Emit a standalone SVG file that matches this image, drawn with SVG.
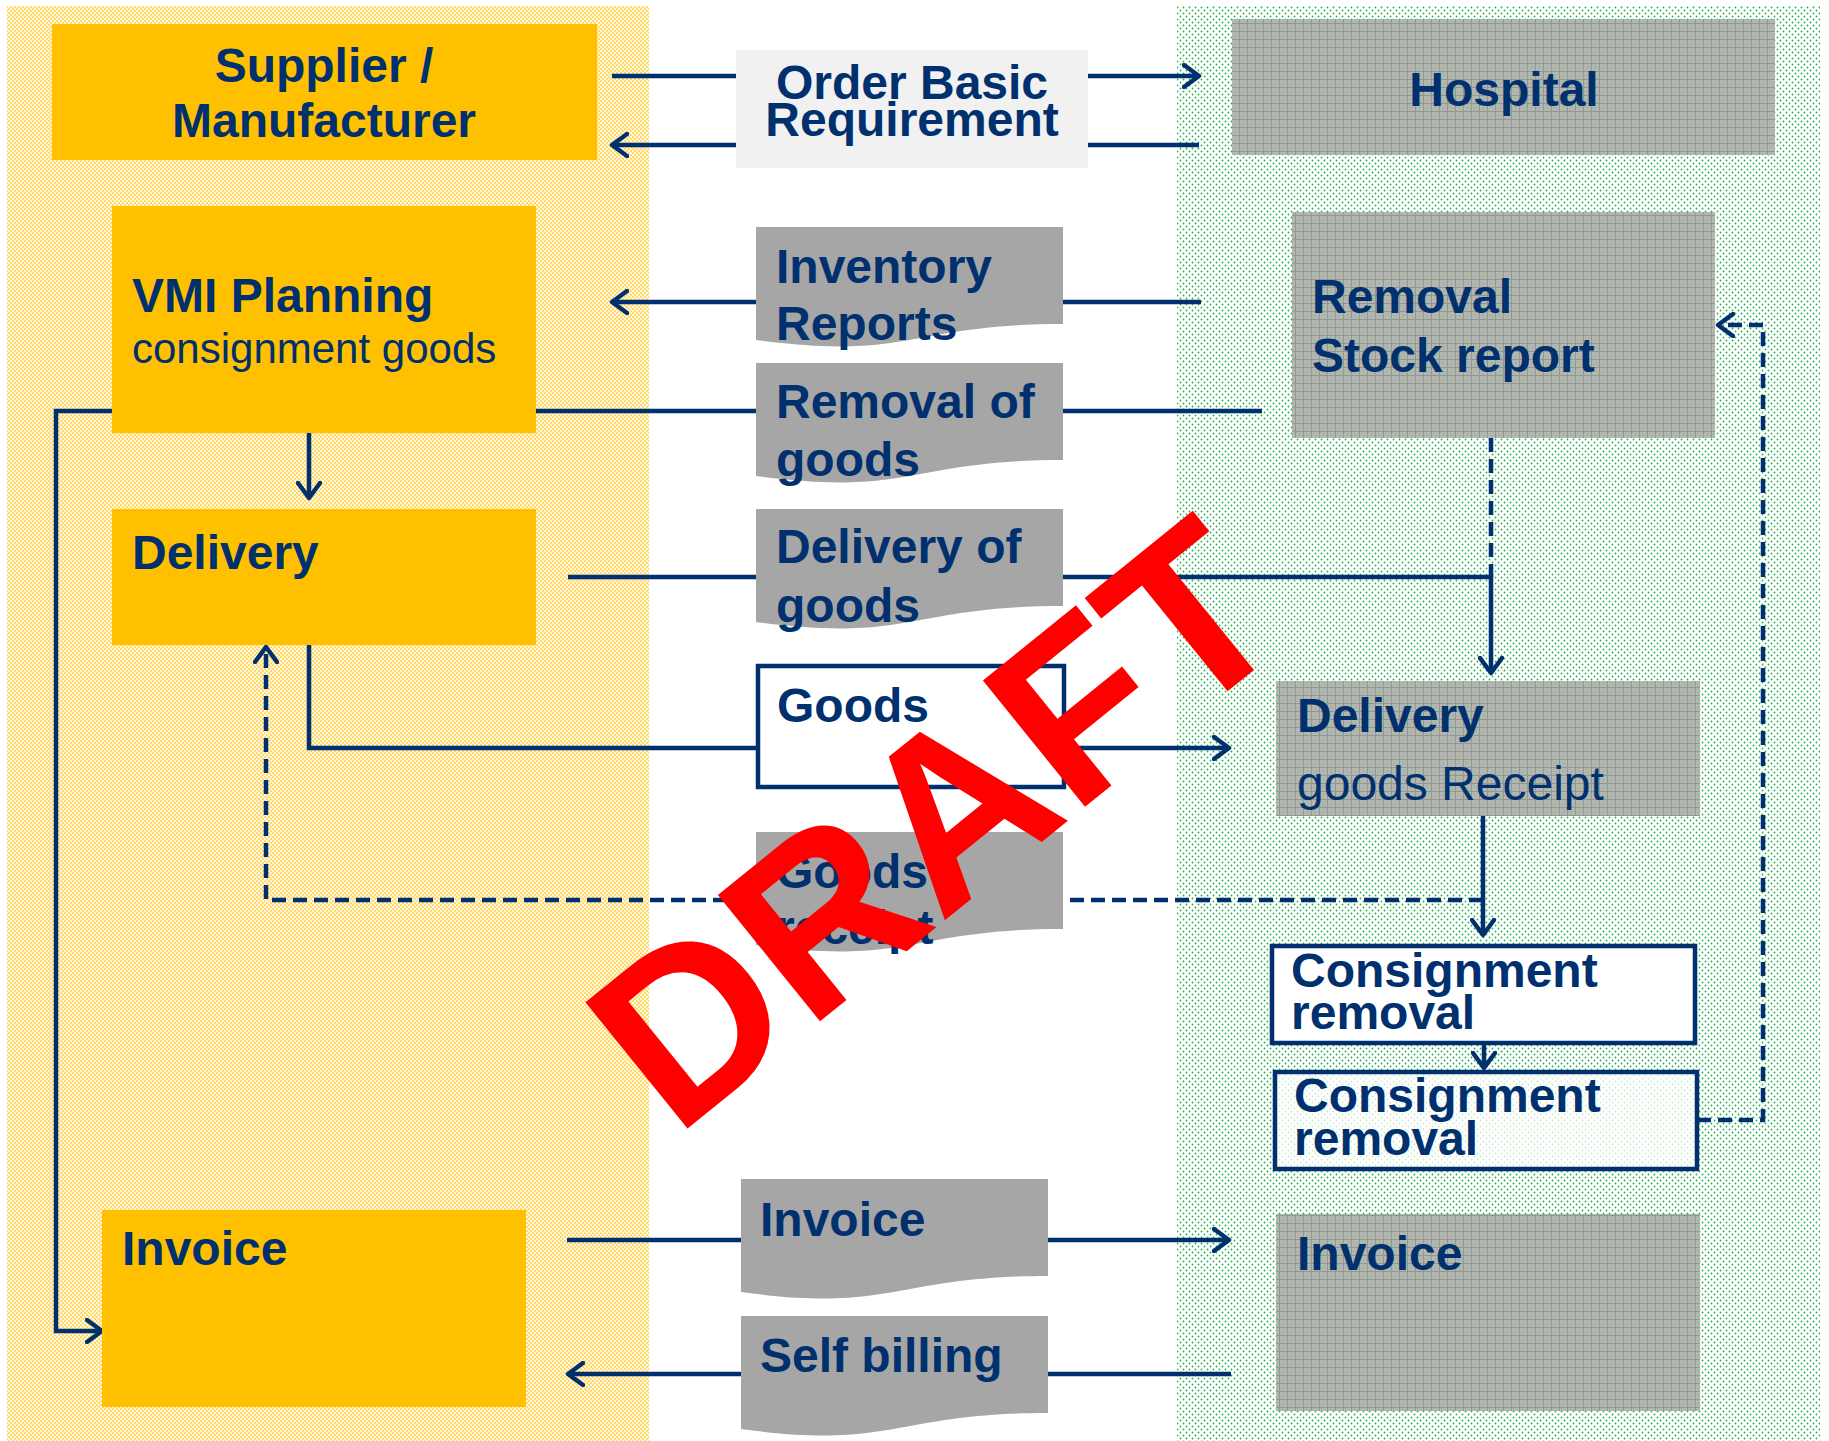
<svg xmlns="http://www.w3.org/2000/svg" width="1829" height="1441" viewBox="0 0 1829 1441">
<defs>
<style>
.b{font-family:"Liberation Sans",Arial,sans-serif;font-weight:bold;font-size:48px;fill:#00306E}
.r{font-family:"Liberation Sans",Arial,sans-serif;font-weight:normal;font-size:48px;fill:#00306E}
.ln{fill:none;stroke:#00306E;stroke-width:4.5}
.dash{fill:none;stroke:#00306E;stroke-width:4.5;stroke-dasharray:14 7}
.doc{fill:#A6A6A6}
.yel{fill:#FFC000}
.gry{fill:url(#grid)}
.wbox{fill:#FFFFFF;stroke:#00306E;stroke-width:4.5}
</style>
<pattern id="ydots" width="4" height="4" patternUnits="userSpaceOnUse">
<rect width="4" height="4" fill="#FFF6DC"/>
<circle cx="1" cy="1" r="0.85" fill="#FFC000"/>
<circle cx="3" cy="3" r="0.85" fill="#FFC000"/>
</pattern>
<pattern id="gdots" width="6" height="6" patternUnits="userSpaceOnUse">
<rect width="6" height="6" fill="#FFFFFF"/>
<circle cx="1.5" cy="1.5" r="0.9" fill="#22B14C"/>
<circle cx="4.5" cy="4.5" r="0.9" fill="#22B14C"/>
</pattern>
<pattern id="grid" width="8" height="8" patternUnits="userSpaceOnUse">
<rect width="8" height="8" fill="#B3B6B0"/>
<path d="M0,7.5 H8 M7.5,0 V8" stroke="#909890" stroke-width="1"/>
<circle cx="3.5" cy="3.5" r="0.8" fill="#7CC28C"/>
</pattern>
<marker id="arr" viewBox="0 0 20 26" markerWidth="20" markerHeight="26" markerUnits="userSpaceOnUse" refX="17" refY="13" orient="auto">
<path d="M2,2 L17,13 L2,24" fill="none" stroke="#00306E" stroke-width="4.5" stroke-dasharray="none" stroke-linecap="round" stroke-linejoin="round"/>
</marker>
</defs>

<rect width="1829" height="1441" fill="#FFFFFF"/>

<g id="lanes">
<rect x="7" y="6" width="642" height="1435" fill="url(#ydots)"/>
<rect x="1177" y="6" width="643" height="1435" fill="url(#gdots)"/>
</g>

<g id="connectors">
<path class="ln" d="M612,76 H1199" marker-end="url(#arr)"/>
<path class="ln" d="M1199,145 H612" marker-end="url(#arr)"/>
<path class="ln" d="M1201,302 H612" marker-end="url(#arr)"/>
<path class="ln" d="M1262,411 H56 V1331 H102" marker-end="url(#arr)"/>
<path class="ln" d="M309,433 V498" marker-end="url(#arr)"/>
<path class="ln" d="M568,577 H1491 V673" marker-end="url(#arr)"/>
<path class="dash" d="M1491,438 V577"/>
<path class="ln" d="M309,645 V748 H1229" marker-end="url(#arr)"/>
<path class="ln" d="M1483,816 V935" marker-end="url(#arr)"/>
<path class="dash" d="M1483,900 H266 V647" marker-end="url(#arr)"/>
<path class="ln" d="M1484,1043 V1068" marker-end="url(#arr)"/>
<path class="dash" d="M1697,1120 H1763 V325 H1718" marker-end="url(#arr)"/>
<path class="ln" d="M567,1240 H1229" marker-end="url(#arr)"/>
<path class="ln" d="M1231,1374 H568" marker-end="url(#arr)"/>
</g>

<g id="supplier">
<rect class="yel" x="52" y="24" width="545" height="136"/>
<text class="b" x="324" y="82" text-anchor="middle">Supplier /</text>
<text class="b" x="324" y="137" text-anchor="middle">Manufacturer</text>
</g>

<g id="order-basic-requirement">
<rect x="736" y="50" width="352" height="118" fill="#F1F1F1"/>
<text class="b" x="912" y="99" text-anchor="middle">Order Basic</text>
<text class="b" x="912" y="136" text-anchor="middle">Requirement</text>
</g>

<g id="hospital">
<rect class="gry" x="1232" y="19" width="543" height="136"/>
<text class="b" x="1504" y="106" text-anchor="middle">Hospital</text>
</g>

<g id="vmi-planning">
<rect class="yel" x="112" y="206" width="424" height="227"/>
<text class="b" x="132" y="312">VMI Planning</text>
<text class="r" x="132" y="363" style="font-size:42px">consignment goods</text>
</g>

<g id="inventory-reports">
<path class="doc" d="M756,227 H1063 V324 C910,324 910,361 756,340 Z"/>
<text class="b" x="776" y="283">Inventory</text>
<text class="b" x="776" y="340">Reports</text>
</g>

<g id="removal-stock-report">
<rect class="gry" x="1292" y="212" width="423" height="226"/>
<text class="b" x="1312" y="313">Removal</text>
<text class="b" x="1312" y="372">Stock report</text>
</g>

<g id="removal-of-goods">
<path class="doc" d="M756,363 H1063 V460 C910,460 910,497 756,476 Z"/>
<text class="b" x="776" y="418">Removal of</text>
<text class="b" x="776" y="476">goods</text>
</g>

<g id="delivery">
<rect class="yel" x="112" y="509" width="424" height="136"/>
<text class="b" x="132" y="569">Delivery</text>
</g>

<g id="delivery-of-goods">
<path class="doc" d="M756,509 H1063 V606 C910,606 910,643 756,622 Z"/>
<text class="b" x="776" y="563">Delivery of</text>
<text class="b" x="776" y="622">goods</text>
</g>

<g id="goods">
<rect class="wbox" x="758" y="666" width="306" height="121"/>
<text class="b" x="777" y="722">Goods</text>
</g>

<g id="delivery-goods-receipt">
<rect class="gry" x="1276" y="681" width="424" height="135"/>
<text class="b" x="1297" y="732">Delivery</text>
<text class="r" x="1297" y="800">goods Receipt</text>
</g>

<g id="goods-receipt">
<path class="doc" d="M756,832 H1063 V929 C910,929 910,966 756,945 Z"/>
<text class="b" x="776" y="888">Goods</text>
<text class="b" x="776" y="944">receipt</text>
</g>

<g id="consignment-removal-1">
<rect class="wbox" x="1272" y="946" width="423" height="97"/>
<text class="b" x="1291" y="987">Consignment</text>
<text class="b" x="1291" y="1029">removal</text>
</g>

<g id="consignment-removal-2">
<rect x="1275" y="1072" width="422" height="97" fill="#FFFFFF" fill-opacity="0.75" stroke="#00306E" stroke-width="4.5"/>
<text class="b" x="1294" y="1112">Consignment</text>
<text class="b" x="1294" y="1155">removal</text>
</g>

<g id="invoice-supplier">
<rect class="yel" x="102" y="1210" width="424" height="197"/>
<text class="b" x="122" y="1265">Invoice</text>
</g>

<g id="invoice-doc">
<path class="doc" d="M741,1179 H1048 V1276 C894,1276 894,1313 741,1292 Z"/>
<text class="b" x="760" y="1236">Invoice</text>
</g>

<g id="self-billing">
<path class="doc" d="M741,1316 H1048 V1413 C894,1413 894,1450 741,1429 Z"/>
<text class="b" x="760" y="1372">Self billing</text>
</g>

<g id="invoice-hospital">
<rect class="gry" x="1276" y="1214" width="424" height="197"/>
<text class="b" x="1297" y="1270">Invoice</text>
</g>

<g id="watermark">
<text x="0" y="0" transform="translate(986,887) rotate(-39)" text-anchor="middle" style="font-family:'Liberation Sans',Arial,sans-serif;font-weight:bold;font-size:236px;fill:#FF0000">DRAFT</text>
</g>
</svg>
